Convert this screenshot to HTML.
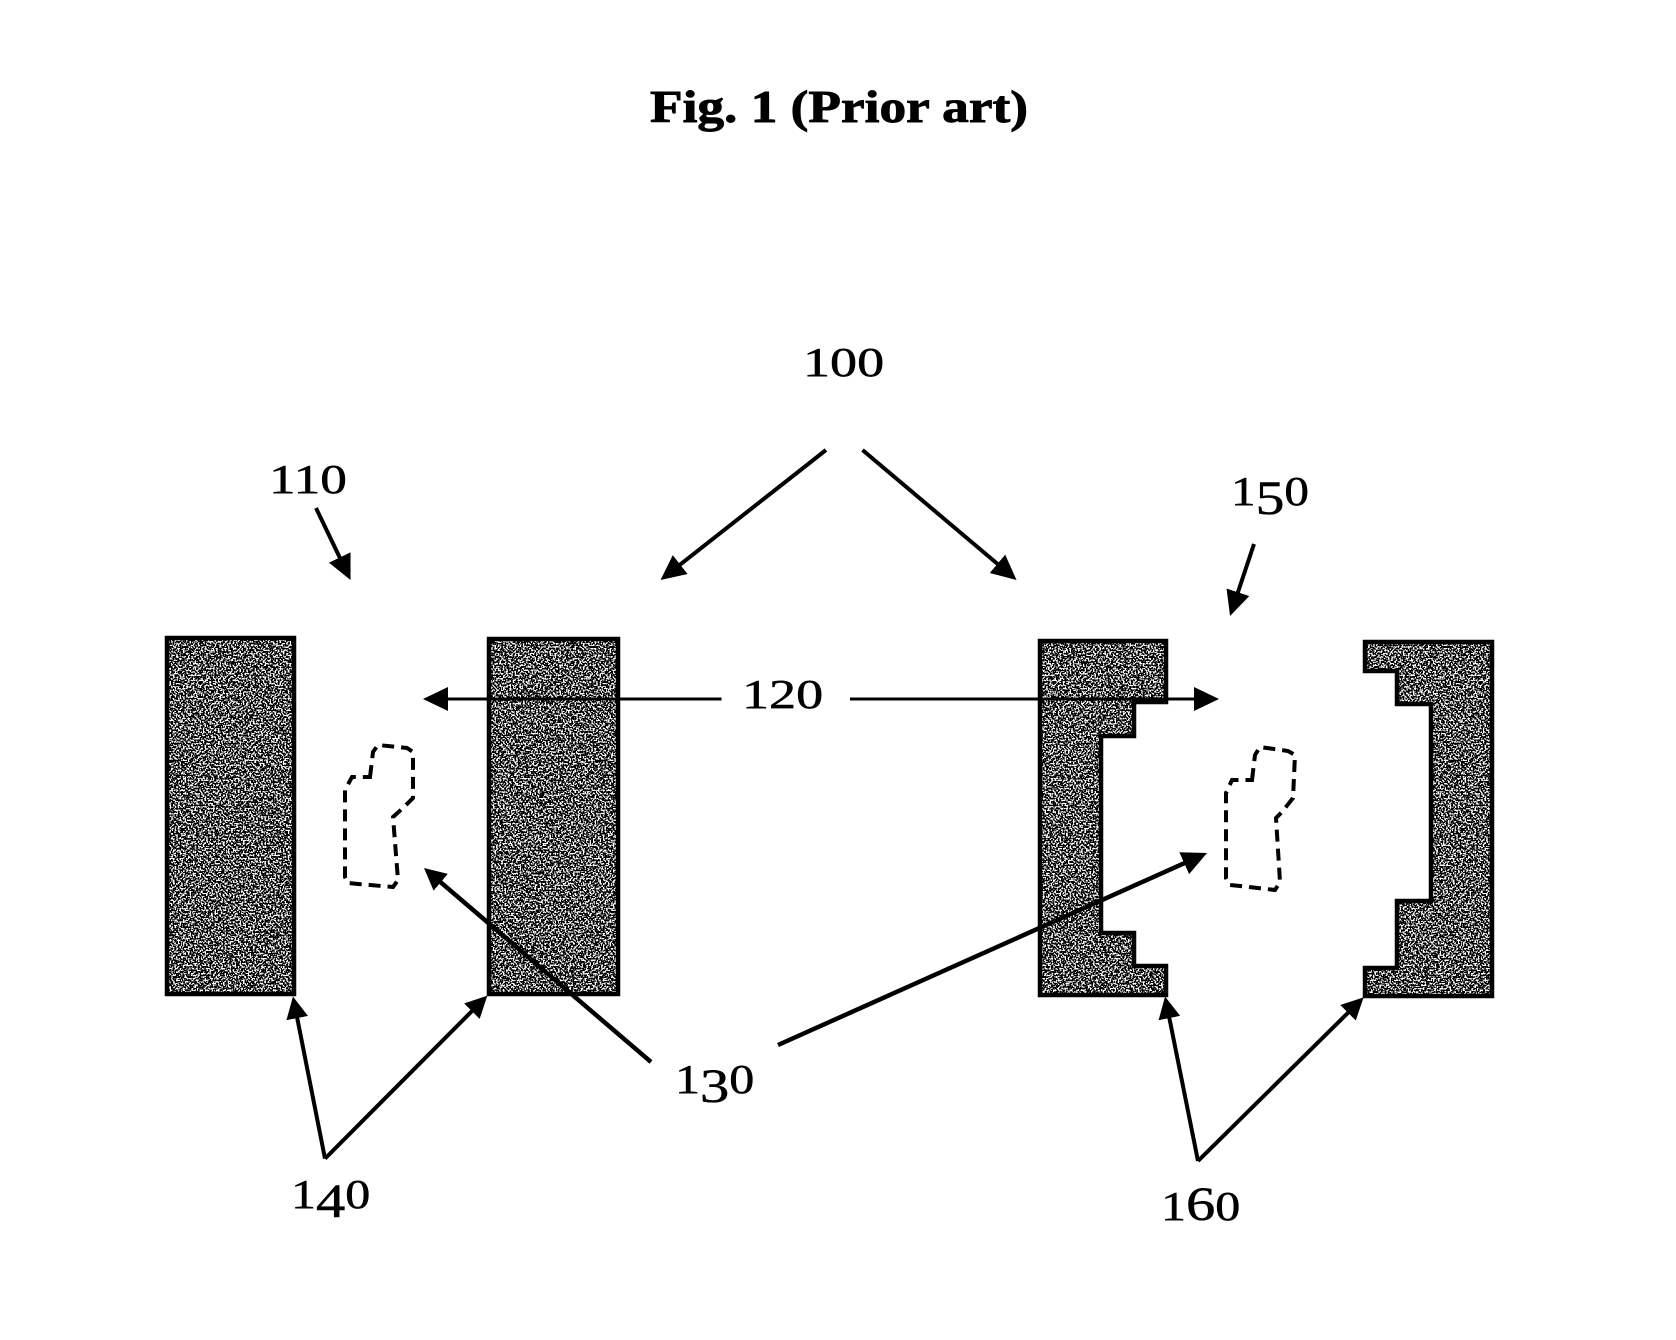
<!DOCTYPE html>
<html>
<head>
<meta charset="utf-8">
<style>
html,body{margin:0;padding:0;background:#fff;width:1676px;height:1340px;overflow:hidden}
svg{display:block}
text{font-family:"Liberation Serif",serif;fill:#000;stroke:#000;stroke-width:.5px}
.l{font-size:41px}
.t{font-size:48px}
</style>
</head>
<body>
<svg width="1676" height="1340" viewBox="0 0 1676 1340" xmlns="http://www.w3.org/2000/svg">
<defs>
<filter id="n" x="0" y="0" width="100%" height="100%" color-interpolation-filters="sRGB">
<feTurbulence type="fractalNoise" baseFrequency="0.6" numOctaves="1" seed="7" result="t"/>
<feColorMatrix in="t" type="matrix" values="1 0 0 0 -0.035 1 0 0 0 -0.035 1 0 0 0 -0.035 0 0 0 0 1" result="g"/>
<feComponentTransfer in="g" result="b">
<feFuncR type="discrete" tableValues="0 1"/>
<feFuncG type="discrete" tableValues="0 1"/>
<feFuncB type="discrete" tableValues="0 1"/>
</feComponentTransfer>
<feComposite in="b" in2="SourceAlpha" operator="in"/>
</filter>
<marker id="big" markerUnits="userSpaceOnUse" markerWidth="30" markerHeight="30" refX="15" refY="15" orient="auto">
<path d="M0 3 L25 15 L0 27 Z" fill="#000" stroke="none"/>
</marker>
<marker id="sm" markerUnits="userSpaceOnUse" markerWidth="30" markerHeight="30" refX="12" refY="15" orient="auto">
<path d="M0 4 L22 15 L0 26 Z" fill="#000" stroke="none"/>
</marker>
</defs>

<text transform="translate(650,122)" font-size="46" font-weight="bold" textLength="378" lengthAdjust="spacingAndGlyphs" style="stroke-width:.9px">Fig. 1 (Prior art)</text>

<!-- filled shapes -->
<g filter="url(#n)" fill="#000">
<rect x="167" y="638" width="127" height="356"/>
<rect x="489" y="639" width="129" height="355"/>
<polygon points="1040,641 1166,641 1166,702 1134,702 1134,736 1101,736 1101,933 1134,933 1134,966 1166,966 1166,995 1040,995"/>
<polygon points="1365,642 1492,642 1492,996 1365,996 1365,968 1397,968 1397,901 1431,901 1431,704 1397,704 1397,671 1365,671"/>
</g>
<g fill="none" stroke="#000" stroke-width="4.5">
<rect x="167" y="638" width="127" height="356"/>
<rect x="489" y="639" width="129" height="355"/>
<polygon points="1040,641 1166,641 1166,702 1134,702 1134,736 1101,736 1101,933 1134,933 1134,966 1166,966 1166,995 1040,995"/>
<polygon points="1365,642 1492,642 1492,996 1365,996 1365,968 1397,968 1397,901 1431,901 1431,704 1397,704 1397,671 1365,671"/>
</g>

<!-- dashed outlines -->
<g fill="none" stroke="#000" stroke-width="4" stroke-dasharray="12 7">
<path d="M370,777 L373,752 L378,745 L407,748 L413,752 L413,798 L403,808 L393,817 L398,880 L393,887 L358,884 L348,883 L345,877 L345,790 L352,777 Z"/>
<path d="M1252,780 L1255,755 L1260,747 L1288,751 L1295,755 L1293,798 L1282,812 L1276,818 L1280,882 L1275,890 L1240,886 L1230,885 L1226,878 L1226,793 L1232,780 Z"/>
</g>

<!-- arrows -->
<g stroke="#000" stroke-width="4" fill="none">
<line x1="826" y1="450" x2="668.4" y2="573.8" marker-end="url(#big)"/>
<line x1="862.5" y1="450" x2="1008.9" y2="573.5" marker-end="url(#big)"/>
<line x1="316" y1="508" x2="346.2" y2="571" marker-end="url(#big)"/>
<line x1="1254" y1="544" x2="1233.2" y2="606.5" marker-end="url(#big)"/>
<line x1="721.5" y1="699" x2="433" y2="699" stroke-width="3" marker-end="url(#big)"/>
<line x1="850" y1="699" x2="1209" y2="699" stroke-width="3" marker-end="url(#big)"/>
<line x1="651" y1="1062" x2="431.6" y2="874.5" stroke-width="4.5" marker-end="url(#sm)"/>
<line x1="778" y1="1045" x2="1197.9" y2="857.1" stroke-width="4.5" marker-end="url(#big)"/>
<line x1="325" y1="1158.6" x2="294.9" y2="1006.3" marker-end="url(#sm)"/>
<line x1="325" y1="1158.6" x2="480.3" y2="1002.7" marker-end="url(#sm)"/>
<line x1="1198" y1="1161" x2="1167" y2="1006.3" marker-end="url(#sm)"/>
<line x1="1198" y1="1161" x2="1356.5" y2="1004.4" marker-end="url(#sm)"/>
</g>

<!-- labels -->
<text class="l" transform="translate(803,376) scale(1.32,1)">100</text>
<text class="l" transform="translate(269,493) scale(1.3,1)">110</text>
<text class="l" transform="translate(742,708) scale(1.32,1)">120</text>
<text class="l" transform="translate(675,1093) scale(1.22,1)">1<tspan class="t" dy="9">3</tspan><tspan dy="-9">0</tspan></text>
<text class="l" transform="translate(291,1208) scale(1.22,1)">1<tspan class="t" dy="9">4</tspan><tspan dy="-9">0</tspan></text>
<text class="l" transform="translate(1231,505) scale(1.2,1)">1<tspan class="t" dy="9">5</tspan><tspan dy="-9">0</tspan></text>
<text class="l" transform="translate(1161,1220) scale(1.22,1)">1<tspan class="t">6</tspan>0</text>
</svg>
</body>
</html>
